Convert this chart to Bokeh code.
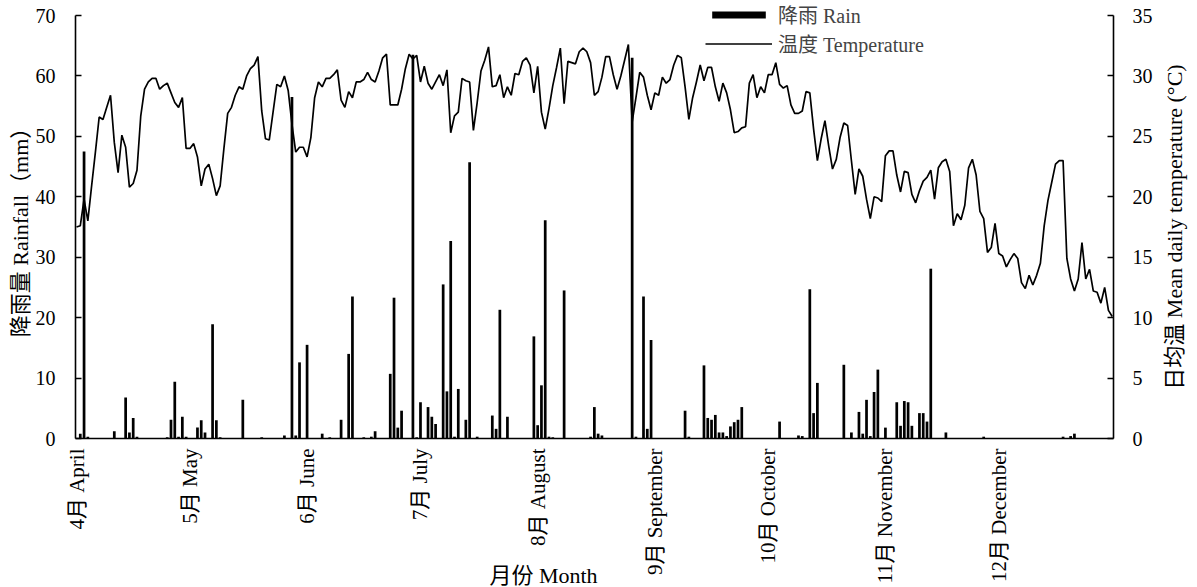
from math import pi
from bokeh.plotting import figure
from bokeh.models import (Range1d, LinearAxis, FixedTicker, Legend, LegendItem, Label)
from bokeh.embed import file_html
from bokeh.resources import INLINE

# ---------------- data ----------------
# day index 0 = 1 April
month_start = [0, 30, 61, 91, 122, 153, 183, 214, 244]
month_labels = ["4月 April", "5月 May", "6月 June", "7月 July", "8月 August",
                "9月 September", "10月 October", "11月 November", "12月 December"]

rain_days = [1, 2, 3, 10, 13, 14, 15, 16, 24, 25, 26, 27, 28, 29, 32, 33, 34, 36, 37, 38,
             44, 49, 55, 57, 58, 59, 61, 65, 67, 70, 72, 73, 76, 78, 79, 83, 84, 85, 86,
             89, 90, 91, 93, 94, 95, 97, 98, 99, 100, 101, 103, 104, 106, 110, 111, 112, 114,
             121, 122, 123, 124, 125, 126, 129, 136, 137, 138, 139, 147, 148, 150, 151, 152,
             161, 162, 166, 167, 168, 169, 170, 171, 172, 173, 174, 175, 176,
             186, 191, 192, 194, 195, 196, 203, 205, 207, 208, 209, 210, 211, 212, 214,
             217, 218, 219, 220, 221, 223, 224, 225, 226, 230, 240, 261, 263, 264]
rain_mm = [0.8, 47.5, 0.3, 1.2, 6.8, 1.0, 3.4, 0.3, 0.2, 3.1, 9.4, 0.3, 3.6, 0.3, 1.8, 3.0, 1.0, 18.9, 3.0, 0.2,
           6.4, 0.2, 0.5, 56.5, 0.5, 12.6, 15.5, 0.8, 0.2, 3.1, 14.0, 23.5, 0.2, 0.3, 1.2, 10.7, 23.3, 1.8, 4.6,
           63.5, 0.2, 6.0, 5.2, 3.6, 2.4, 25.5, 7.8, 32.7, 0.3, 8.2, 3.1, 45.7, 0.3, 3.8, 1.6, 21.3, 3.6,
           16.9, 2.2, 8.8, 36.1, 0.3, 0.2, 24.5, 0.3, 5.2, 0.8, 0.5, 63.0, 0.3, 23.5, 1.6, 16.3,
           4.6, 0.3, 12.1, 3.4, 3.1, 3.9, 1.0, 1.0, 0.4, 2.0, 2.7, 3.1, 5.2,
           2.8, 0.5, 0.4, 24.7, 4.2, 9.2, 12.2, 1.0, 4.4, 0.8, 6.4, 0.4, 7.7, 11.4, 1.8,
           6.0, 2.1, 6.2, 6.0, 2.1, 4.2, 4.2, 2.8, 28.1, 1.0, 0.3, 0.3, 0.4, 0.8]

temp_c = [17.5, 17.6, 19.8, 18.0, 20.9, 23.7, 26.6, 26.4, 27.4, 28.4,
          24.5, 22.0, 25.1, 24.1, 20.8, 21.1, 22.2, 26.7, 28.9, 29.5,
          29.8, 29.8, 28.9, 29.2, 29.4, 28.6, 27.8, 27.4, 28.2, 24.0,
          24.0, 24.4, 23.3, 20.9, 22.3, 22.7, 21.5, 20.1, 20.9, 24.0,
          26.9, 27.4, 28.4, 29.1, 28.9, 30.0, 30.6, 30.9, 31.6, 27.1,
          24.8, 24.7, 27.0, 29.3, 29.1, 30.0, 28.8, 26.0, 23.7, 24.1,
          24.1, 23.3, 24.9, 28.2, 29.5, 29.1, 29.8, 29.8, 30.1, 30.5,
          28.0, 27.4, 28.7, 28.2, 29.5, 29.5, 29.7, 30.3, 29.7, 29.5,
          30.4, 31.5, 31.8, 27.6, 27.6, 27.6, 28.9, 30.6, 31.8, 31.4,
          31.7, 29.5, 30.8, 29.4, 28.9, 29.5, 30.1, 29.2, 30.5, 25.3,
          26.7, 27.0, 29.8, 29.6, 29.5, 25.5, 27.8, 30.4, 31.3, 32.4,
          29.1, 29.2, 30.1, 28.2, 29.1, 28.4, 30.2, 30.1, 31.2, 31.5,
          30.9, 28.6, 30.8, 27.0, 25.6, 27.3, 29.2, 30.7, 32.3, 27.7,
          31.2, 31.1, 31.0, 32.0, 32.3, 32.0, 31.1, 28.4, 28.7, 29.9,
          31.6, 31.6, 30.1, 28.9, 30.0, 31.3, 32.6, 26.2, 28.2, 30.3,
          29.9, 28.4, 27.2, 28.6, 28.4, 29.9, 29.4, 29.7, 30.9, 31.7,
          31.5, 29.1, 26.4, 28.2, 29.5, 30.9, 29.6, 30.7, 30.7, 29.1,
          27.9, 29.4, 28.6, 27.2, 25.3, 25.4, 25.7, 25.8, 29.4, 30.1,
          28.2, 29.1, 28.6, 30.1, 30.1, 31.1, 29.3, 29.0, 29.2, 27.6,
          26.9, 26.9, 27.1, 28.7, 28.6, 25.6, 23.0, 24.8, 26.3, 24.2,
          22.3, 23.1, 24.9, 26.1, 25.9, 23.0, 20.2, 22.3, 21.7, 19.8,
          18.2, 20.0, 19.9, 19.6, 23.4, 23.8, 23.8, 21.8, 20.4, 22.1,
          22.0, 20.2, 19.5, 20.5, 21.3, 21.6, 22.2, 19.8, 22.4, 22.9,
          23.1, 22.1, 17.6, 18.6, 18.1, 19.3, 22.4, 23.1, 21.8, 18.8,
          18.2, 15.4, 15.8, 17.8, 15.3, 15.1, 14.2, 14.8, 15.3, 14.9,
          12.9, 12.4, 13.5, 12.7, 13.5, 14.5, 17.6, 19.7, 21.2, 22.7,
          23.0, 23.0, 14.9, 13.2, 12.2, 13.2, 16.2, 13.2, 14.0, 12.2,
          12.1, 11.2, 12.5, 10.6, 10.1]
temp_days = list(range(len(temp_c)))

rain_ticks = [0, 10, 20, 30, 40, 50, 60, 70]
temp_ticks = [0, 5, 10, 15, 20, 25, 30, 35]
x_title = "月份 Month"
y_title_left = "降雨量 Rainfall（mm）"
y_title_right = "日均温 Mean daily temperature (°C)"

# ---------------- layout constants (pixels) ----------------
W, H = 1197, 587
AX_L, AX_R = 75, 1113        # pixel columns of the two y axes
Y_TOP, Y_ZERO = 15, 438      # pixel rows of 70 mm and 0 mm
DAY0_PX = 76                 # pixel column of day 0
PX_PER_MM = (Y_ZERO - Y_TOP) / 70.0
PX_PER_DAY = 3.78


def day_at(px):
    return (px - DAY0_PX) / PX_PER_DAY


def mm_at(py):
    return (Y_ZERO - py) / PX_PER_MM


FONT = "Liberation Serif, Noto Sans CJK SC"

# the frame covers the whole canvas; axes sit at fixed locations inside it
p = figure(width=W, height=H, output_backend="svg", toolbar_location=None,
           x_range=Range1d(day_at(0), day_at(W)), y_range=Range1d(mm_at(H), mm_at(0)),
           min_border_left=0, min_border_right=0, min_border_top=0, min_border_bottom=0)
p.extra_y_ranges = {"temp": Range1d(mm_at(H) / 2, mm_at(0) / 2)}
p.grid.visible = False
p.outline_line_color = None

bars = p.vbar(x=rain_days, top=rain_mm, width=0.72, fill_color="black", line_color=None)
line = p.line(temp_days, temp_c, y_range_name="temp", line_color="black", line_width=1.7)
# legend key for the rain bars: a solid black band like the reference key
rain_key = p.line(x=[], y=[], line_color="black", line_width=9)

# x axis at 0 mm with vertical month labels
xa = p.xaxis[0]
xa.fixed_location = 0
xa.bounds = (day_at(AX_L), day_at(AX_R))
xa.ticker = FixedTicker(ticks=month_start)
xa.major_label_overrides = {float(d): t for d, t in zip(month_start, month_labels)}
xa.major_label_orientation = pi / 2
xa.major_label_standoff = 10
xa.major_tick_in = 0
xa.major_tick_out = 0
xa.minor_tick_line_color = None
xa.axis_line_width = 1.6
xa.axis_line_color = "black"
xa.major_label_text_font = FONT
xa.major_label_text_font_size = "21px"
xa.major_label_text_color = "black"

ya = p.yaxis[0]
ya.fixed_location = day_at(AX_L)
ya.ticker = FixedTicker(ticks=rain_ticks)
ya.bounds = (0, 70)

ra = LinearAxis(y_range_name="temp", ticker=FixedTicker(ticks=temp_ticks), bounds=(0, 35),
                fixed_location=day_at(AX_R))
p.add_layout(ra, "right")

for ax in (ya, ra):
    ax.axis_line_width = 1.6
    ax.axis_line_color = "black"
    ax.major_tick_in = 6
    ax.major_tick_out = 0
    ax.major_tick_line_width = 1.6
    ax.minor_tick_line_color = None
    ax.major_label_text_font = FONT
    ax.major_label_text_font_size = "20px"
    ax.major_label_text_color = "black"
ya.major_label_standoff = 20
ra.major_label_standoff = 19

# axis titles
mid_mm = 35
p.add_layout(Label(x=day_at(20), y=mid_mm, text=y_title_left, angle=pi / 2,
                   text_align="center", text_baseline="middle", text_font=FONT,
                   text_font_size="22px", text_color="black"))
p.add_layout(Label(x=day_at(1174), y=mid_mm, text=y_title_right, angle=pi / 2,
                   text_align="center", text_baseline="middle", text_font=FONT,
                   text_font_size="22px", text_color="black"))
p.add_layout(Label(x=day_at(543), y=mm_at(575), text=x_title,
                   text_align="center", text_baseline="middle", text_font=FONT,
                   text_font_size="22px", text_color="black"))

legend = Legend(items=[LegendItem(label="降雨 Rain", renderers=[bars, rain_key]),
                       LegendItem(label="温度 Temperature", renderers=[line])],
                location=(705, H - 58), glyph_width=67, glyph_height=9, label_standoff=6,
                spacing=-4, padding=0, margin=0, border_line_color=None,
                background_fill_alpha=0, label_text_font=FONT,
                label_text_font_size="20px", label_height=23)
p.add_layout(legend)

open("out.html", "w").write(file_html(p, INLINE))
